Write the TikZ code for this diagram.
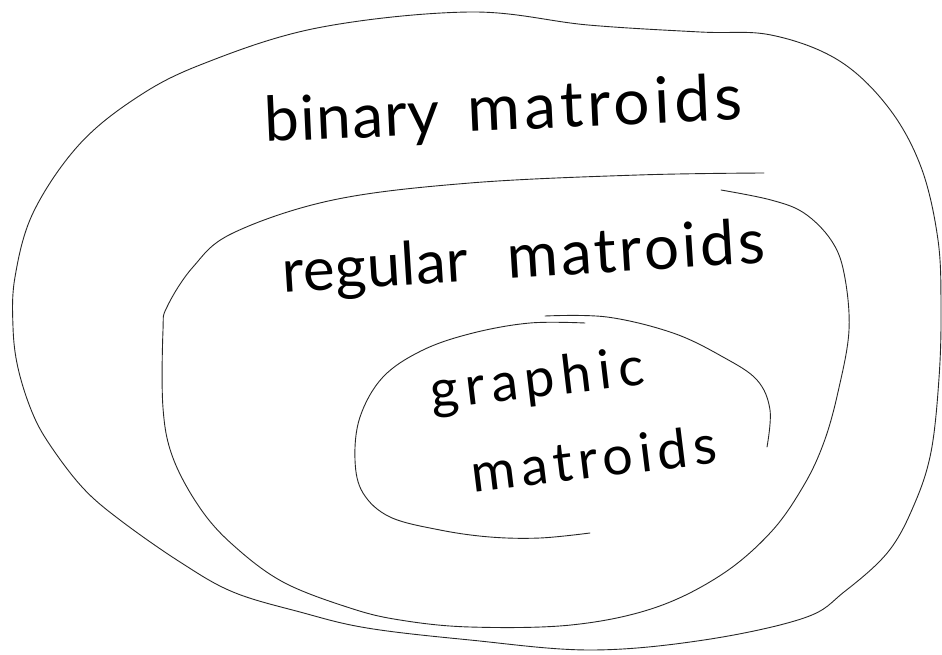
\documentclass[tikz,border=0pt]{standalone}
\usepackage{fontspec}
\setmainfont{Lato}
% a word set at a given size with extra letter spacing
\newcommand\wordset[3]{\fontsize{#1}{#1}\selectfont\addfontfeatures{LetterSpace=#2}#3}
\tikzset{
  setline/.style={line width=0.9pt, draw=black!85, line join=round, line cap=round},
  label/.style={inner sep=0pt, anchor=base west, text=black},
}
\begin{document}
\begin{tikzpicture}[x=1pt, y=-1pt]
\useasboundingbox (0,0) rectangle (942,655);
\fill[white] (0,0) rectangle (942,655);

% binary matroids
\draw[setline] plot[smooth cycle, tension=0.6] coordinates {
  (470,12) (588,25) (700,32) (771,35) (838,60) (888,107) (921,167) (938,240)
  (941,310) (939,378) (931,452) (914,505) (888,552) (844,592) (804,618)
  (704,640) (590,650) (470,640) (367,628) (300,612) (233,592) (180,562)
  (120,520) (83,488) (50,445) (32,412) (18,368) (13,327) (15,277) (33,213)
  (77,147) (133,100) (200,65) (317,28)};

% regular matroids
\draw[setline] plot[smooth, tension=0.6] coordinates {
  (721,190) (771,200) (804,213) (831,240) (844,273) (849,330) (838,392)
  (824,442) (804,485) (771,532) (721,575) (654,608) (571,625) (470,627)
  (400,620) (350,608) (283,582) (233,545) (200,508) (173,458) (163,408)
  (163,330) (167,307) (193,267) (233,233) (333,200) (470,183) (638,175)
  (764,173)};

% graphic matroids
\draw[setline] plot[smooth, tension=0.6] coordinates {
  (767,447) (770,410) (757,380) (723,357) (673,333) (607,317) (545,316)};
\draw[setline] plot[smooth, tension=0.6] coordinates {
  (585,323) (530,323) (473,333) (423,350) (383,377) (360,417) (355,460)
  (363,493) (390,517) (440,530) (490,537) (540,538) (590,533)};

\node[label, rotate=2.6] (binary) at (265,142) {\wordset{62}{2}{binary}};
\node[label, rotate=2.6] (binmat) at (468,132) {\wordset{64}{7}{matroids}};
\node[label, rotate=3.6] (regular) at (283,293) {\wordset{60}{1}{regular}};
\node[label, rotate=3.6] (regmat) at (508,279) {\wordset{62}{5}{matroids}};
\node[label, rotate=6.8] (graphic) at (432,410) {\wordset{54}{13}{graphic}};
\node[label, rotate=7] (grmat) at (473,493) {\wordset{54}{11}{matroids}};
\end{tikzpicture}
\end{document}
